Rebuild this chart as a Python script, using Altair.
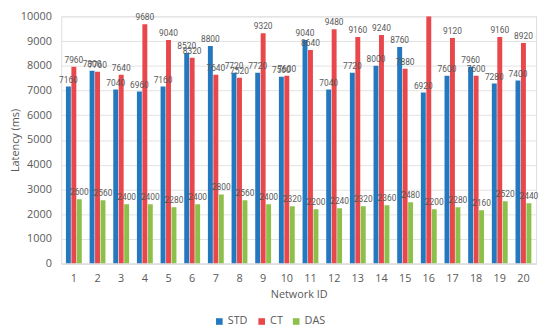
import altair as alt
import pandas as pd

networks = [str(i) for i in range(1, 21)]
series = ["STD", "CT", "DAS"]
std = [7160, 7800, 7040, 6960, 7160, 8520, 8800, 7720, 7720, 7560,
       9040, 7040, 7720, 8000, 8760, 6920, 7600, 7960, 7280, 7400]
ct = [7960, 7760, 7640, 9680, 9040, 8320, 7640, 7520, 9320, 7600,
      8640, 9480, 9160, 9240, 7880, 10000, 9120, 7600, 9160, 8920]
das = [2600, 2560, 2400, 2400, 2280, 2400, 2800, 2560, 2400, 2320,
       2200, 2240, 2320, 2360, 2480, 2200, 2280, 2160, 2520, 2440]
colors = ["#2478c0", "#e8474b", "#8cc04a"]

rows = []
for name, vals in zip(series, [std, ct, das]):
    for n, v in zip(networks, vals):
        rows.append({"Network ID": n, "Series": name, "Latency": v})
df = pd.DataFrame(rows)

FONT = "Open Sans"

x = alt.X("Network ID:N", sort=networks, title="Network ID",
          scale=alt.Scale(paddingInner=0.33, paddingOuter=0.2),
          axis=alt.Axis(labelAngle=0, ticks=False, domainColor="#d9d9d9",
                        labelColor="#595959", titleColor="#595959",
                        labelFontSize=11, titleFontSize=11, titleFontWeight="normal",
                        labelPadding=9, titlePadding=5, labelFont=FONT, titleFont=FONT))
xo = alt.XOffset("Series:N", sort=series, scale=alt.Scale(paddingInner=0.1))
y = alt.Y("Latency:Q", title="Latency (ms)",
          scale=alt.Scale(domain=[0, 10000], nice=False),
          axis=alt.Axis(values=list(range(0, 10001, 1000)), format="d",
                        labelOverlap=False,
                        ticks=False, domain=False, gridColor="#e3e3e3",
                        labelColor="#595959", titleColor="#595959",
                        labelFontSize=11, titleFontSize=11, titleFontWeight="normal",
                        labelFont=FONT, titleFont=FONT, labelPadding=10, titlePadding=0))
color = alt.Color("Series:N", sort=series,
                  scale=alt.Scale(domain=series, range=colors),
                  legend=alt.Legend(orient="none", direction="horizontal", title=None,
                                    legendX=155, legendY=304,
                                    symbolType="square", symbolSize=45,
                                    labelFontSize=11, labelColor="#595959",
                                    labelFont=FONT, columnPadding=8, labelOffset=3))

bars = alt.Chart(df).mark_bar(clip=True).encode(x=x, xOffset=xo, y=y, color=color)
labels = alt.Chart(df).transform_filter("datum.Latency < 10000").mark_text(
    dy=-7, fontSize=8.5, color="#595959", font="Roboto").encode(
    x=x, xOffset=xo, y=y, text=alt.Text("Latency:Q", format="d"))

chart = (bars + labels).properties(
    width=482, height=251,
    padding={"left": 54, "top": 6, "right": 6, "bottom": 70},
    autosize=alt.AutoSizeParams(type="none"),
).configure_view(stroke=None).configure(background="white")

chart.save("out.html", embed_options={"renderer": "svg", "actions": False})
